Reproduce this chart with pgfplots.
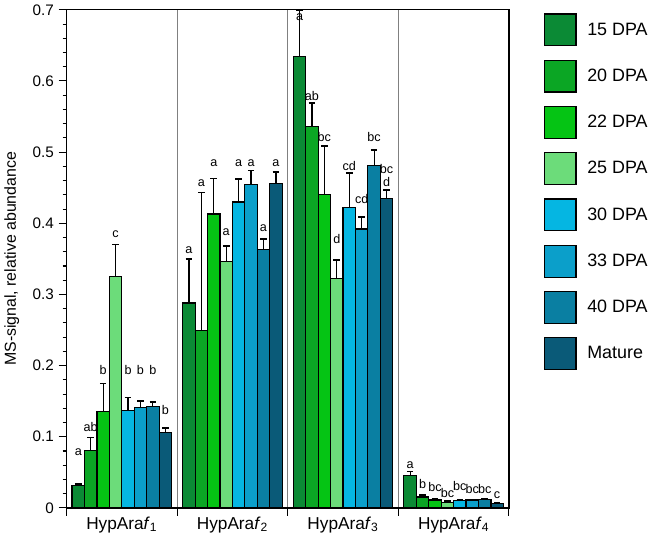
\documentclass[border=0pt]{standalone}
\usepackage{pgfplots}
\pgfplotsset{compat=1.18}
\usepackage{pgfplotstable}
\usepackage{fontspec}
\setmainfont{Liberation Sans}

\definecolor{c15}{HTML}{0B8A35}
\definecolor{c20}{HTML}{0BA624}
\definecolor{c22}{HTML}{05C414}
\definecolor{c25}{HTML}{6CDC7A}
\definecolor{c30}{HTML}{05B6E2}
\definecolor{c33}{HTML}{0B9FCA}
\definecolor{c40}{HTML}{0A7FA2}
\definecolor{cmat}{HTML}{0A5A78}

\protected\def\bcd{\shortstack{bc\\d}}

% x = group (HypAraf1..4), y = mean, e = error (plus), ly = letter baseline, lab = letter
\pgfplotstableread{
x y e ly lab
0 0.031 0.003 0.073 a
1 0.288 0.062 0.357 a
2 0.634 0.066 0.685 a
3 0.045 0.006 0.056 a
}\dA
\pgfplotstableread{
x y e ly lab
0 0.081 0.018 0.108 ab
1 0.249 0.194 0.451 a
2 0.536 0.033 0.573 ab
3 0.0154 0.0026 0.027 b
}\dB
\pgfplotstableread{
x y e ly lab
0 0.136 0.039 0.188 b
1 0.413 0.050 0.480 a
2 0.440 0.069 0.515 bc
3 0.011 0.002 0.023 bc
}\dC
\pgfplotstableread{
x y e ly lab
0 0.325 0.045 0.380 c
1 0.346 0.022 0.383 a
2 0.322 0.026 0.372 d
3 0.008 0.0015 0.0144 bc
}\dD
\pgfplotstableread{
x y e ly lab
0 0.137 0.018 0.188 b
1 0.430 0.032 0.480 a
2 0.422 0.049 0.474 cd
3 0.0105 0.001 0.0247 bc
}\dE
\pgfplotstableread{
x y e ly lab
0 0.141 0.009 0.188 b
1 0.454 0.020 0.480 a
2 0.392 0.017 0.428 cd
3 0.011 0.001 0.020 bc
}\dF
\pgfplotstableread{
x y e ly lab
0 0.142 0.007 0.188 b
1 0.363 0.015 0.388 a
2 0.481 0.022 0.515 bc
3 0.012 0.001 0.020 bc
}\dG
\pgfplotstableread{
x y e ly lab
0 0.106 0.006 0.131 b
1 0.456 0.016 0.480 a
2 0.435 0.012 0.451 \bcd
3 0.0062 0.0008 0.0135 c
}\dH

\pgfplotsset{
  mybar/.style={
    fill=#1, draw=black, line width=0.9pt,
    legend image code/.code={\draw[##1] (0pt,-12pt) rectangle (24pt,12pt);}
  }
}

\begin{document}
\begin{tikzpicture}
\begin{axis}[
  name=ax,
  scale only axis, width=333.75pt, height=375.75pt,
  xmin=-0.5, xmax=3.5, ymin=0, ymax=0.7,
  ybar=0pt, bar width=0.1124,
  clip=false,
  axis line style={line width=1pt},
  xtick={-0.5,0.5,1.5,2.5,3.5}, xticklabels={},
  xmajorgrids, major grid style={gray, line width=0.6pt},
  extra x ticks={0,1,2,3},
  extra x tick labels={HypAra\textit{f}\textsubscript{1},HypAra\textit{f}\textsubscript{2},HypAra\textit{f}\textsubscript{3},HypAra\textit{f}\textsubscript{4}},
  extra x tick style={major tick length=0pt, grid=none},
  ytick={0,0.1,0.2,0.3,0.4,0.5,0.6,0.7},
  minor y tick num=4,
  tick align=outside, xtick pos=bottom, ytick pos=left,
  major tick length=6pt, minor tick length=3pt,
  every tick/.style={black, line width=0.8pt},
  yticklabel style={/pgf/number format/fixed, /pgf/number format/precision=1},
  /pgf/number format/assume math mode=true,
  tick label style={font=\fontsize{11.5}{13}\selectfont},
  xticklabel style={font=\fontsize{13}{15}\selectfont, yshift=-3pt},
  ylabel={MS-signal, relative abundance},
  every axis y label/.style={at={([xshift=-41.25pt]axis description cs:0,0.5)}, rotate=90, anchor=center, font=\fontsize{12}{14}\selectfont},
  nodes near coords, point meta=explicit symbolic,
  visualization depends on={\thisrow{ly}-\thisrow{y} \as \dl},
  every node near coord/.append style={font=\fontsize{9.5}{9.5}\selectfont, anchor=base, inner sep=0pt, shift={(axis direction cs:0,\dl)}},
  error bars/y dir=plus, error bars/y explicit,
  error bars/error bar style={black, line width=0.9pt},
  error bars/error mark=-,
  error bars/error mark options={black, line width=1.2pt, mark size=2.5pt, rotate=90},
  legend cell align=left,
  legend style={draw=none, fill=none, at={(1,1)}, anchor=north west, xshift=26pt, yshift=-2.5pt, inner sep=0pt, row sep=10pt, font=\fontsize{13.5}{15}\selectfont, /tikz/every odd column/.append style={column sep=6pt}},
]
\addplot[mybar=c15, bar shift=-0.3934] table[x=x, y=y, y error plus=e, meta=lab] {\dA};
\addplot[mybar=c20, bar shift=-0.2810] table[x=x, y=y, y error plus=e, meta=lab] {\dB};
\addplot[mybar=c22, bar shift=-0.1686] table[x=x, y=y, y error plus=e, meta=lab] {\dC};
\addplot[mybar=c25, bar shift=-0.0562] table[x=x, y=y, y error plus=e, meta=lab] {\dD};
\addplot[mybar=c30, bar shift=0.0562] table[x=x, y=y, y error plus=e, meta=lab] {\dE};
\addplot[mybar=c33, bar shift=0.1686] table[x=x, y=y, y error plus=e, meta=lab] {\dF};
\addplot[mybar=c40, bar shift=0.2810] table[x=x, y=y, y error plus=e, meta=lab] {\dG};
\addplot[mybar=cmat, bar shift=0.3934] table[x=x, y=y, y error plus=e, meta=lab] {\dH};
\legend{15 DPA,20 DPA,22 DPA,25 DPA,30 DPA,33 DPA,40 DPA,Mature}
\end{axis}
\path ([shift={(-47.25pt,-22.5pt)}]ax.south west) rectangle ([shift={(120.75pt,4.5pt)}]ax.north east);
\end{tikzpicture}
\end{document}
